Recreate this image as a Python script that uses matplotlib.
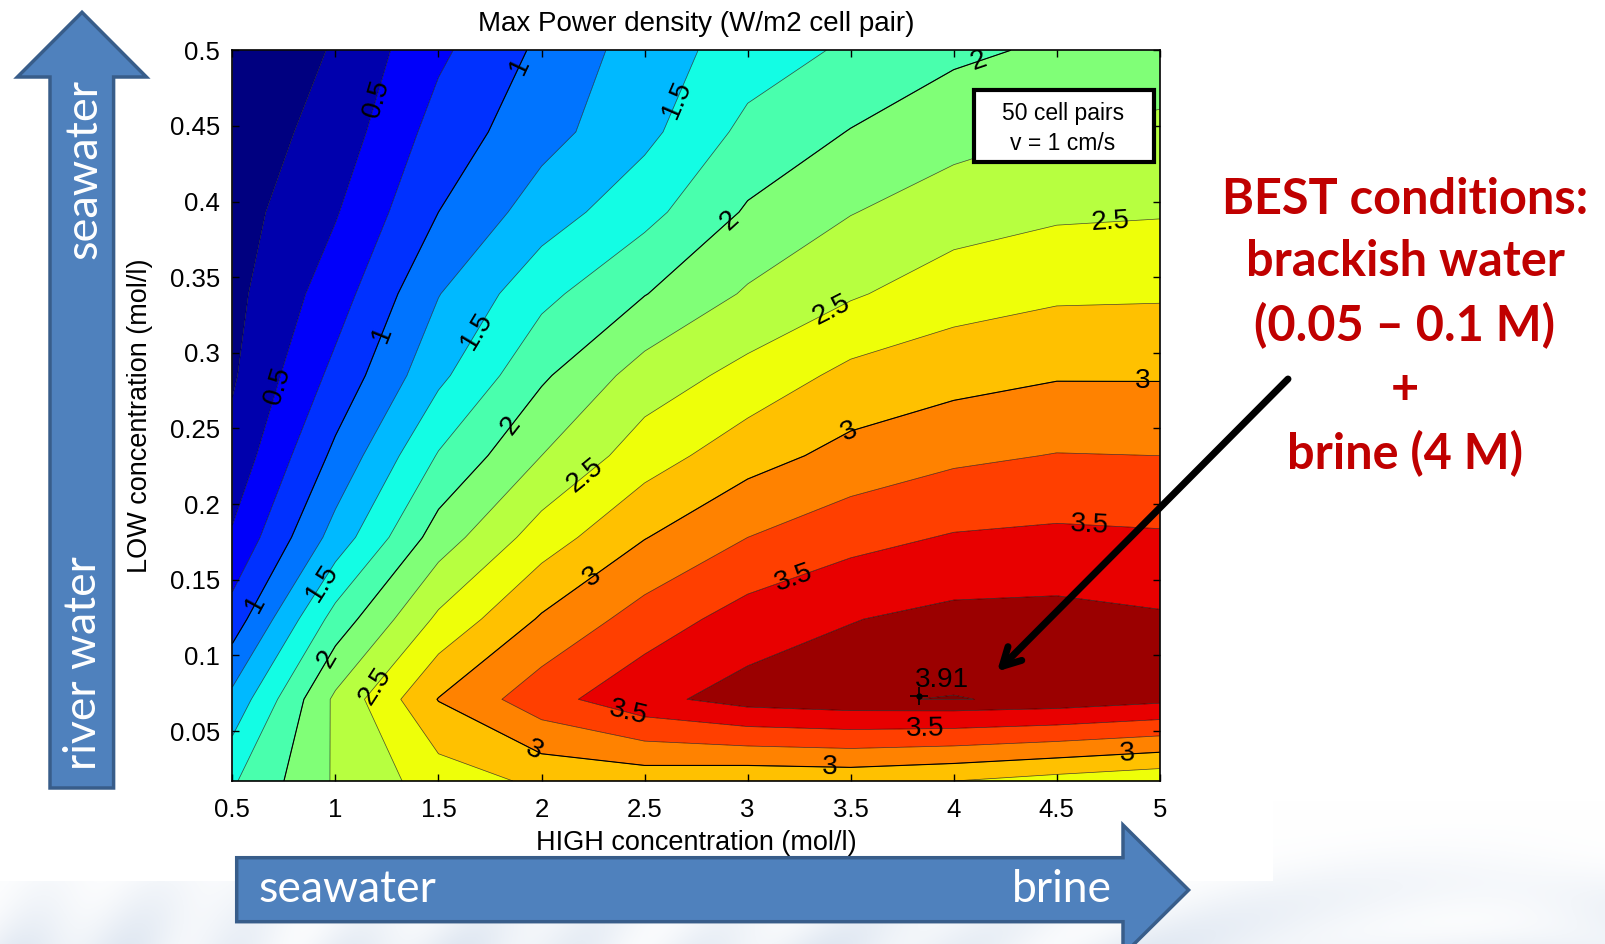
import numpy as np
import matplotlib
matplotlib.use("Agg")
import matplotlib.pyplot as plt
from matplotlib.patches import Polygon, Rectangle

# ---- data -------------------------------------------------------------
high_conc = [0.5, 1.0, 1.5, 2.0, 2.5, 3.0, 3.5, 4.0, 4.5, 5.0]          # mol/l
low_conc = [0.017, 0.071, 0.124, 0.178, 0.232, 0.285, 0.339, 0.393, 0.446, 0.5]  # mol/l

# max power density (W/m2 cell pair), one row per LOW concentration (bottom -> top)
power_density = [
    [1.72, 2.28, 2.62, 2.80, 2.84, 2.80, 2.82, 2.75, 2.65, 2.56],
    [1.32, 2.30, 3.01, 3.40, 3.68, 3.85, 3.90, 3.915, 3.89, 3.81],
    [0.86, 1.85, 2.55, 3.03, 3.36, 3.61, 3.74, 3.82, 3.83, 3.78],
    [0.53, 1.35, 2.12, 2.62, 2.99, 3.25, 3.42, 3.52, 3.55, 3.53],
    [0.33, 1.06, 1.77, 2.25, 2.63, 2.90, 3.08, 3.20, 3.26, 3.25],
    [0.22, 0.82, 1.44, 1.96, 2.36, 2.58, 2.82, 2.91, 2.98, 2.98],
    [0.18, 0.63, 1.24, 1.68, 1.99, 2.28, 2.47, 2.64, 2.71, 2.72],
    [0.14, 0.48, 1.00, 1.37, 1.67, 2.03, 2.24, 2.38, 2.46, 2.48],
    [0.10, 0.35, 0.85, 1.16, 1.43, 1.82, 2.01, 2.16, 2.25, 2.30],
    [0.05, 0.27, 0.70, 1.05, 1.37, 1.62, 1.79, 1.95, 2.04, 2.12],
]

peak_value = 3.91
peak_point = (3.83, 0.073)

fill_levels = [0.0, 0.25, 0.5, 0.75, 1.0, 1.25, 1.5, 1.75, 2.0, 2.25, 2.5,
               2.75, 3.0, 3.25, 3.5, 3.75, 3.91, 4.0]
labelled_levels = [0.5, 1.0, 1.5, 2.0, 2.5, 3.0, 3.5]
color_limits = (0.10, 3.85)

x_ticks = [0.5, 1, 1.5, 2, 2.5, 3, 3.5, 4, 4.5, 5]
x_tick_labels = ["0.5", "1", "1.5", "2", "2.5", "3", "3.5", "4", "4.5", "5"]
y_ticks = [0.05, 0.1, 0.15, 0.2, 0.25, 0.3, 0.35, 0.4, 0.45, 0.5]
y_tick_labels = ["0.05", "0.1", "0.15", "0.2", "0.25", "0.3", "0.35", "0.4", "0.45", "0.5"]

# label anchor points along the contour lines (HIGH, LOW)
label_points = [
    (1.21, 0.4675), (0.748, 0.2774),
    (1.906, 0.489), (1.230, 0.312), (0.609, 0.134),
    (2.577, 0.472), (1.707, 0.313), (0.927, 0.149),
    (4.126, 0.4905), (2.894, 0.390), (1.871, 0.250), (0.972, 0.0968),
    (4.762, 0.3857), (3.410, 0.328), (2.224, 0.2172), (1.19, 0.0798),
    (4.916, 0.2815), (3.509, 0.2436), (2.249, 0.1516), (1.956, 0.0359),
    (3.40, 0.025), (4.842, 0.0359),
    (4.658, 0.1874), (3.227, 0.1502), (2.422, 0.0616), (3.863, 0.0507),
]

# ---- figure -----------------------------------------------------------
W, H = 1605, 944
fig = plt.figure(figsize=(W / 100, H / 100), dpi=100)
fig.patch.set_facecolor("white")

# pale slide background showing below the chart
bg = fig.add_axes([0, 0, 1, 1], zorder=-5)
bg.set_xlim(0, W)
bg.set_ylim(H, 0)
bg.axis("off")
yy, xx = np.mgrid[0:H, 0:W]
fade = np.clip((yy - 800) / 144.0, 0, 1) ** 1.5
r = np.hypot(xx - 1450, yy - 1500)
swirl = 0.6 + 0.25 * np.sin(r / 16.0) + 0.15 * np.sin((xx + 2 * yy) / 60.0)
a = np.clip(fade * swirl * 0.5, 0, 1)[..., None]
tint = np.array([0.76, 0.82, 0.90])
bg.imshow((1 - a) * 1.0 + a * tint, extent=(0, W, H, 0), aspect="auto", zorder=0)
bg.add_patch(Rectangle((0, 0), 1273, 881, facecolor="white", edgecolor="none", zorder=1))

L, R, T, B = 232.4, 1159.8, 50.2, 781.0
ax = fig.add_axes([L / W, 1 - B / H, (R - L) / W, (B - T) / H])

X, Y = np.meshgrid(high_conc, low_conc)
Z = np.array(power_density)

# band colours: each band takes the jet colour of its lower bound
lower = np.array(fill_levels[:-1])
lower[0] = color_limits[0]
band_colors = plt.cm.jet(np.clip((lower - color_limits[0]) /
                                 (color_limits[1] - color_limits[0]), 0, 1))

ax.contourf(X, Y, Z, levels=fill_levels, colors=band_colors, antialiased=True)
line_levels = fill_levels[1:-1]
ax.contour(X, Y, Z, levels=line_levels, colors="k", linewidths=0.5, alpha=0.7)
ax.contour(X, Y, Z, levels=[1.0, 2.0, 3.0], colors="k", linewidths=0.8)

font = "Liberation Sans"
cs_lab = ax.contour(X, Y, Z, levels=labelled_levels, colors="none")
labels = ax.clabel(cs_lab, levels=labelled_levels, manual=label_points, inline=False,
                   fmt="%g", fontsize=20, colors="k")
for t in labels:
    t.set_family(font)

# peak marker and its value
ax.plot(*peak_point, marker="+", color="k", ms=13, mew=1.2)
ax.plot(*peak_point, marker="o", color="k", ms=3.5)
ax.text(3.943, 0.0835, f"{peak_value:g}", fontsize=20, ha="center", va="center",
        family=font)

# info box
ax.add_patch(Rectangle((4.097, 0.4263), 0.874, 0.0474, facecolor="white",
                       edgecolor="black", linewidth=3, zorder=5))
ax.text(4.529, 0.458, "50 cell pairs", fontsize=16.5, ha="center", va="center",
        zorder=6, family=font)
ax.text(4.529, 0.4385, "v = 1 cm/s", fontsize=16.5, ha="center", va="center",
        zorder=6, family=font)

ax.set_xlim(0.5, 5.0)
ax.set_ylim(0.017, 0.5)
ax.set_xticks(x_ticks)
ax.set_xticklabels(x_tick_labels)
ax.set_yticks(y_ticks)
ax.set_yticklabels(y_tick_labels)
ax.tick_params(direction="in", top=True, right=True, length=5, width=1,
               labelsize=18.5)
ax.tick_params(axis="x", pad=12)
ax.tick_params(axis="y", pad=9)
for lab in ax.get_xticklabels() + ax.get_yticklabels():
    lab.set_family(font)
for sp in ax.spines.values():
    sp.set_linewidth(1.2)

ax.set_title("Max Power density (W/m2 cell pair)", fontsize=20, family=font, pad=14)
ax.set_xlabel("HIGH concentration (mol/l)", fontsize=19.5, family=font)
ax.set_ylabel("LOW concentration (mol/l)", fontsize=19.5, family=font)
ax.xaxis.set_label_coords((696 - L) / (R - L), (B - 843) / (B - T))
ax.xaxis.label.set_va("center")
ax.yaxis.set_label_coords((140 - L) / (R - L), 0.5)
ax.yaxis.label.set_va("center")

# ---- overlay in pixel coordinates ------------------------------------
ov = fig.add_axes([0, 0, 1, 1], zorder=10)
ov.set_xlim(0, W)
ov.set_ylim(H, 0)
ov.axis("off")
ov.patch.set_alpha(0)

blue, blue_edge = "#4F81BD", "#385D8A"
up_arrow = [(50, 788), (50, 77), (17.4, 77), (82, 12.3), (146.4, 77), (113.6, 77), (113.6, 788)]
ov.add_patch(Polygon(up_arrow, closed=True, facecolor=blue, edgecolor=blue_edge, linewidth=2.5))
right_arrow = [(236.7, 857.7), (1123, 857.7), (1123, 825), (1188.6, 890), (1123, 955),
               (1123, 921.7), (236.7, 921.7)]
ov.add_patch(Polygon(right_arrow, closed=True, facecolor=blue, edgecolor=blue_edge, linewidth=2.5))

cal = "Lato"
ov.text(84, 169, "seawater", color="white", fontsize=32.5, rotation=90,
        ha="center", va="center", family=cal)
ov.text(84, 663, "river water", color="white", fontsize=32, rotation=90,
        ha="center", va="center", family=cal)
ov.text(347.5, 890, "seawater", color="white", fontsize=32, ha="center",
        va="center", family=cal)
ov.text(1062, 890, "brine", color="white", fontsize=32, ha="center",
        va="center", family=cal)

best_lines = ["BEST conditions:", "brackish water", "(0.05 \u2013 0.1 M)", "+", "brine (4 M)"]
best_y = [199.6, 262, 325.5, 390, 453.5]
for txt, yy_ in zip(best_lines, best_y):
    ov.text(1405, yy_, txt, color="#C00000", fontsize=35, fontweight="bold",
            ha="center", va="center", family=cal)

ov.annotate("", xy=(997, 671.5), xytext=(1288, 379),
            arrowprops=dict(arrowstyle="->,head_length=1.3,head_width=0.7",
                            lw=5, color="black", shrinkA=0, shrinkB=0))

fig.savefig("out.png", dpi=100)
